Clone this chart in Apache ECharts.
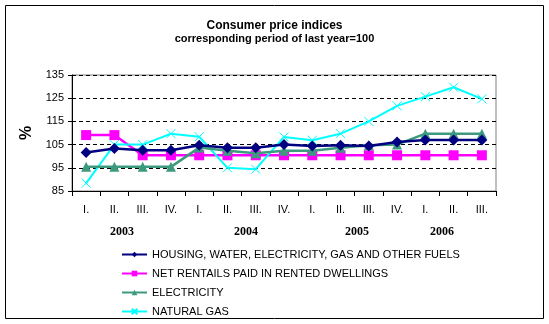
<!DOCTYPE html>
<html><head><meta charset="utf-8">
<script src="https://cdn.jsdelivr.net/npm/echarts@6/dist/echarts.min.js"></script>
<style>html,body{margin:0;padding:0;background:#fff}#c{width:549px;height:324px}</style>
</head><body><div id="c"></div>
<script>
var categories = ['I.','II.','III.','IV.','I.','II.','III.','IV.','I.','II.','III.','IV.','I.','II.','III.'];
var yearLabels = ['2003','2004','2005','2006'];
var yearLabelPos = [1.77, 6.16, 10.08, 13.09];
var housing = [101.6,103.3,102.6,102.6,104.7,103.6,103.6,105.0,104.4,104.7,104.4,106.1,107.0,107.0,107.0];
var rentals = [109.1,109.1,100.4,100.4,100.4,100.4,100.4,100.4,100.4,100.4,100.4,100.4,100.4,100.4,100.4];
var electricity = [95.4,95.4,95.4,95.4,103.7,102.3,101.3,102.3,102.3,103.6,104.7,105.0,109.7,109.7,109.7];
var gas = [88.4,105.0,105.0,109.7,108.4,95.0,94.4,108.3,106.9,109.7,115.0,121.7,125.7,129.7,124.7];
var yTicks = [85,95,105,115,125,135];

var F = 'Arial, "Liberation Sans", sans-serif';
var chart = echarts.init(document.getElementById('c'));
chart.setOption({
  animation: false,
  backgroundColor: '#fff',
  title: {
    text: 'Consumer price indices',
    subtext: 'corresponding period of last year=100',
    left: 'center', top: 15, itemGap: 1,
    textStyle: {fontFamily: F, fontSize: 12, fontWeight: 'bold', color: '#000'},
    subtextStyle: {fontFamily: F, fontSize: 11, fontWeight: 'bold', color: '#000'}
  },
  graphic: [{type: 'rect', shape: {x: 5.5, y: 5.5, width: 538, height: 313}, style: {fill: null, stroke: '#000', lineWidth: 1}, z: -1}],
  legend: {
    orient: 'vertical', left: 116, top: 244, itemGap: 8, itemWidth: 25, itemHeight: 7,
    textStyle: {fontFamily: F, fontSize: 11, color: '#000'},
    data: ['HOUSING, WATER, ELECTRICITY, GAS AND OTHER FUELS','NET RENTAILS PAID IN RENTED DWELLINGS','ELECTRICITY','NATURAL GAS']
  },
  grid: {left: 72, top: 75, width: 424, height: 116, show: true, borderColor: '#808080', borderWidth: 1, backgroundColor: '#fff'},
  xAxis: [{
    type: 'category', data: categories, boundaryGap: true,
    axisLine: {lineStyle: {color: '#000', width: 1}},
    axisTick: {show: true, length: 5, lineStyle: {color: '#000'}},
    axisLabel: {fontFamily: F, fontSize: 11, color: '#000', margin: 13, interval: 0},
    splitLine: {show: false}
  }, {
    type: 'value', min: 0, max: 15, position: 'bottom',
    axisLine: {show: false}, axisTick: {show: false}, splitLine: {show: false},
    axisLabel: {
      customValues: yearLabelPos, margin: 35,
      fontFamily: '"Times New Roman", "Liberation Serif", serif', fontSize: 12, fontWeight: 'bold', color: '#000',
      formatter: function (v) { var i = yearLabelPos.indexOf(v); return i >= 0 ? yearLabels[i] : ''; }
    }
  }],
  yAxis: {
    type: 'value', min: 85, max: 135, interval: 10,
    name: '%', nameLocation: 'middle', nameRotate: 90, nameGap: 33,
    nameTextStyle: {fontFamily: F, fontSize: 16, fontWeight: 'bold', color: '#000'},
    axisLine: {show: true, lineStyle: {color: '#000'}},
    axisTick: {show: true, length: 4, lineStyle: {color: '#000'}},
    axisLabel: {fontFamily: F, fontSize: 11, color: '#000', margin: 8,
      formatter: function (v) { return yTicks.indexOf(v) >= 0 ? String(v) : ''; }},
    splitLine: {show: true, lineStyle: {color: '#000', type: [4, 3], width: 1}},
  },
  series: [{
    name: 'HOUSING, WATER, ELECTRICITY, GAS AND OTHER FUELS', type: 'line', data: housing,
    symbol: 'diamond', symbolSize: 11, color: '#000080', lineStyle: {width: 2.5, color: '#000080'}, z: 5
  }, {
    name: 'NET RENTAILS PAID IN RENTED DWELLINGS', type: 'line', data: rentals,
    symbol: 'rect', symbolSize: 10, color: '#FF00FF', lineStyle: {width: 2.5, color: '#FF00FF'}, z: 2
  }, {
    name: 'ELECTRICITY', type: 'line', data: electricity,
    symbol: 'triangle', symbolSize: 10, color: '#3D9A7E', lineStyle: {width: 2.5, color: '#3D9A7E'}, z: 4
  }, {
    name: 'NATURAL GAS', type: 'line', data: gas,
    symbol: 'path://M0,0L10,10M10,0L0,10', symbolSize: 9, color: '#00FFFF',
    itemStyle: {color: 'rgba(0,0,0,0)', borderColor: '#00FFFF', borderWidth: 1},
    lineStyle: {width: 2, color: '#00FFFF'}, z: 3
  }]
});
</script></body></html>
